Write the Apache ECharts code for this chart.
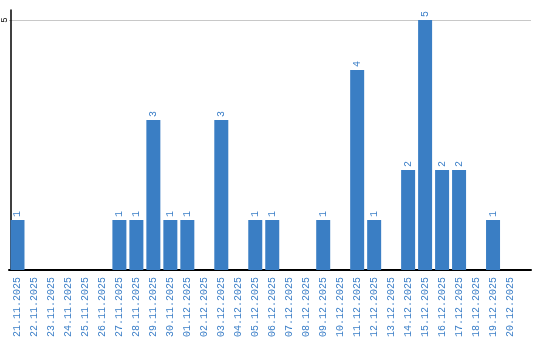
<!DOCTYPE html>
<html>
<head>
<meta charset="utf-8">
<script src="https://cdn.jsdelivr.net/npm/echarts@6/dist/echarts.min.js"></script>
<style>
html,body{margin:0;padding:0;background:#fff;}
#chart{width:540px;height:340px;}
</style>
</head>
<body>
<div id="chart"></div>
<script>
const categories = ['21.11.2025','22.11.2025','23.11.2025','24.11.2025','25.11.2025','26.11.2025','27.11.2025','28.11.2025','29.11.2025','30.11.2025',
  '01.12.2025','02.12.2025','03.12.2025','04.12.2025','05.12.2025','06.12.2025','07.12.2025','08.12.2025','09.12.2025','10.12.2025',
  '11.12.2025','12.12.2025','13.12.2025','14.12.2025','15.12.2025','16.12.2025','17.12.2025','18.12.2025','19.12.2025','20.12.2025'];
const values = [1,0,0,0,0,0,1,1,3,1, 1,0,3,0,1,1,0,0,1,0, 4,1,0,2,5,2,2,0,1,0];
const yTicks = [5];

const barColor = '#3a7ec4';
const labelColor = '#3e80c8';

const chart = echarts.init(document.getElementById('chart'), null, {renderer:'canvas'});
const data = values.map((v,i)=>[i, v]);
chart.setOption({
  animation:false,
  grid:{left:8.5, right:9, top:10, bottom:70, containLabel:false},
  xAxis:{
    type:'value', min:-0.5, max:30.235, interval:0.5,
    axisLine:{show:true, onZero:false, lineStyle:{color:'#000', width:2}},
    axisTick:{show:false},
    splitLine:{show:false},
    axisLabel:{
      rotate:90, margin:7, color:labelColor, fontFamily:'Liberation Mono', fontSize:10,
      showMinLabel:true, showMaxLabel:true,
      formatter:function(v){const i=Math.round(v); if(Math.abs(v-i)>1e-6) return ''; return categories[i]||'';}
    }
  },
  yAxis:{
    type:'value', min:0, max:5.2, interval:5, offset:-2,
    axisLine:{show:true, onZero:false, lineStyle:{color:'#000', width:1.5}},
    axisTick:{show:false},
    splitLine:{show:true, lineStyle:{color:['rgba(0,0,0,0)','#c8c8c8','rgba(0,0,0,0)'], width:1}},
    axisLabel:{
      rotate:90, margin:2, color:'#000', fontFamily:'Liberation Mono', fontSize:9,
      formatter:function(v){return yTicks.indexOf(v)>=0 ? String(v) : '';}
    }
  },
  series:[{
    type:'bar', data:data, barWidth:14,
    itemStyle:{color:barColor},
    label:{
      show:true, position:'top', distance:3, rotate:90, align:'left', verticalAlign:'middle',
      color:labelColor, fontFamily:'Liberation Mono', fontSize:10,
      formatter:function(p){return p.value[1] ? String(p.value[1]) : '';}
    }
  }]
});
</script>
</body>
</html>
